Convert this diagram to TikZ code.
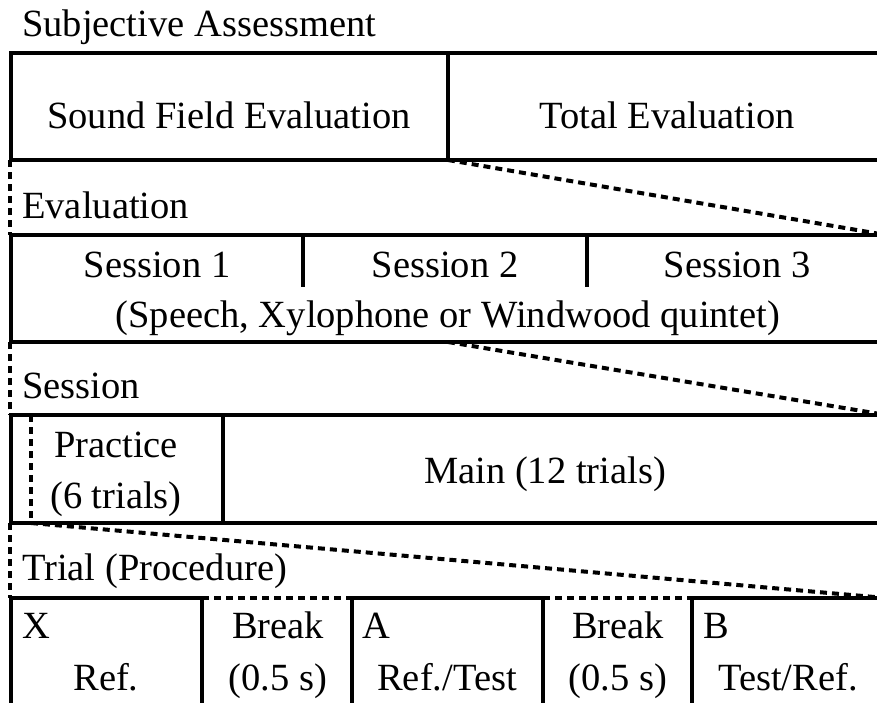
\documentclass[tikz,border=0pt]{standalone}
\usepackage{fontspec}
\setmainfont{Liberation Serif}
\usepackage{tikz}

\begin{document}
\begin{tikzpicture}[
        x=1pt, y=-1pt,
        font=\fontsize{38.5}{46}\selectfont,
        % Styles des cadres
        box/.style={rectangle, draw, line width=4pt, outer sep=0pt, inner sep=0pt, anchor=north west},
        cell/.style={rectangle, draw=none, outer sep=0pt, inner sep=0pt, anchor=north west},
        txt/.style={inner sep=0pt, anchor=base},
        title/.style={inner sep=0pt, anchor=base west},
        rule/.style={line width=4pt},
        % Style des lignes de zoom
        zoomline/.style={line width=4pt, dash pattern=on 7pt off 5pt}
    ]
    \useasboundingbox (0,0) rectangle (877,702);
    \clip (0,0) rectangle (877,702);

    % Niveau 1
    \node[title] (tsubj) at (22,36) {Subjective Assessment};
    \node[box, minimum width=437, minimum height=107] (sfe) at (11,53) {};
    \node[box, minimum width=438, minimum height=107] (tote) at (448,53) {};
    \node[txt] (tsfe) at (229,128) {Sound Field Evaluation};
    \node[txt] (ttote) at (667,128) {Total Evaluation};

    % Niveau 2
    \node[title] (teval) at (22,218) {Evaluation};
    \node[box, minimum width=875, minimum height=107] (eval) at (11,235) {};
    \coordinate (d1) at (303,235);
    \coordinate (d2) at (587,235);
    \draw[rule] (d1) -- ++(0,52);
    \draw[rule] (d2) -- ++(0,52);
    \node[txt] (ts1) at (157,277) {Session 1};
    \node[txt] (ts2) at (445,277) {Session 2};
    \node[txt] (ts3) at (737,277) {Session 3};
    \node[txt] (tstim) at (448,327) {(Speech, Xylophone or Windwood quintet)};

    % Niveau 3
    \node[title] (tsess) at (22,398) {Session};
    \node[box, minimum width=212, minimum height=108] (prac) at (11,415) {};
    \node[box, minimum width=663, minimum height=108] (main) at (223,415) {};
    \coordinate (p1) at (31,415);
    \coordinate (p2) at (31,523);
    \draw[zoomline] (p1) -- (p2);
    \node[txt] (tprac) at (116,457) {Practice};
    \node[txt] (tprac2) at (116,508) {(6 trials)};
    \node[txt] (tmain) at (545,483) {Main (12 trials)};

    % Niveau 4
    \node[title] (ttrial) at (22,580) {Trial (Procedure)};
    \node[box, minimum width=191, minimum height=130] (x) at (11,598) {};
    \node[cell, minimum width=150, minimum height=130] (brk1) at (202,598) {};
    \node[box, minimum width=191, minimum height=130] (a) at (352,598) {};
    \node[cell, minimum width=149, minimum height=130] (brk2) at (543,598) {};
    \node[box, minimum width=194, minimum height=130] (b) at (692,598) {};
    \draw[zoomline] (brk1.north west) -- (brk1.north east);
    \draw[zoomline] (brk2.north west) -- (brk2.north east);
    \node[title] (tx) at (22,638) {X};
    \node[txt] (tx2) at (106,690) {Ref.};
    \node[txt] (tb1) at (278,638) {Break};
    \node[txt] (tb1b) at (278,690) {(0.5 s)};
    \node[title] (ta) at (362,638) {A};
    \node[txt] (ta2) at (447,690) {Ref./Test};
    \node[txt] (tb2) at (618,638) {Break};
    \node[txt] (tb2b) at (618,690) {(0.5 s)};
    \node[title] (tb) at (703,638) {B};
    \node[txt] (tb3) at (788,690) {Test/Ref.};

    % Lignes de zoom
    \draw[zoomline] ([xshift=-1pt]sfe.south west) -- ([xshift=-1pt]eval.north west);
    \draw[zoomline] (sfe.south east) -- (eval.north east);
    \draw[zoomline] ([xshift=-1pt]eval.south west) -- ([xshift=-1pt]prac.north west);
    \draw[zoomline] (eval.south west -| sfe.south east) -- (main.north east);
    \draw[zoomline] ([xshift=-1pt]prac.south west) -- ([xshift=-1pt]x.north west);
    \draw[zoomline] (p2) -- (b.north east);

\end{tikzpicture}
\end{document}
